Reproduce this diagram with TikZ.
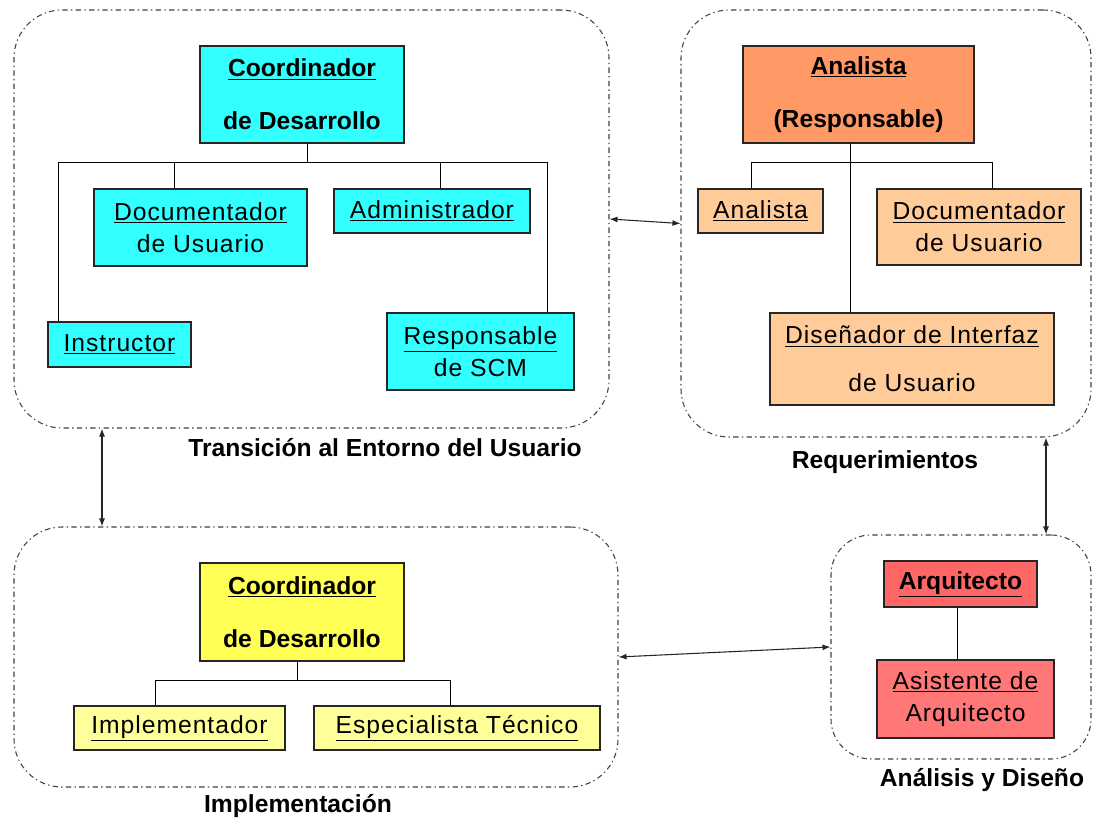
\documentclass[tikz,border=0pt]{standalone}
\usepackage{fontspec}
\setmainfont{Liberation Sans}
\usepackage{tikz}
\usetikzlibrary{calc,arrows.meta}

\definecolor{cyanbox}{HTML}{33FFFF}
\definecolor{orangehead}{HTML}{FF9966}
\definecolor{orangebox}{HTML}{FFCC99}
\definecolor{yellowhead}{HTML}{FFFF55}
\definecolor{yellowbox}{HTML}{FFFF99}
\definecolor{redhead}{HTML}{FF6666}
\definecolor{redbox}{HTML}{FF7777}

\tikzset{
  group/.style={draw=black!75, rounded corners=36pt, line width=0.8pt,
    dash pattern=on 4pt off 2.5pt on 1pt off 2.5pt, inner sep=0pt},
  chief/.style={draw=black!85, line width=0.8pt, align=center, inner sep=0pt,
    font=\bfseries\fontsize{18.5}{39.75}\selectfont},
  role/.style={draw=black!85, line width=0.8pt, align=center, inner sep=0pt,
    font=\fontsize{18.5}{24}\selectfont\addfontfeature{LetterSpace=4}},
  phase/.style={font=\bfseries\fontsize{18.5}{22}\selectfont},
  tree/.style={line width=0.7pt},
  link/.style={{Latex[length=6pt,width=4.5pt]}-{Latex[length=6pt,width=4.5pt]},
    line width=0.8pt, black!85}
}

\begin{document}
\begin{tikzpicture}[x=0.75pt, y=-0.75pt]

  \useasboundingbox (0,0) rectangle (1093,820);

  % fases
  \node[group, minimum width=446.25pt, minimum height=313.5pt] (G1) at (311.5,219) {};
  \node[group, minimum width=307.5pt, minimum height=320.25pt] (G2) at (886,223.5) {};
  \node[group, minimum width=453pt, minimum height=195pt] (G3) at (316,657) {};
  \node[group, minimum width=195pt, minimum height=168pt, rounded corners=30pt] (G4) at (961,647) {};

  \node[phase] (L1) at (385,448) {Transición al Entorno del Usuario};
  \node[phase] (L2) at (885,462) {Requerimientos};
  \node[phase] (L3) at (298,806) {Implementación};
  \node[phase] (L4) at (982,780) {Análisis y Diseño};

  % Transicion al entorno del usuario
  \node[chief, fill=cyanbox, minimum width=153pt, minimum height=72.75pt] (T0) at (302,94.5)
       {\underline{Coordinador}\\de Desarrollo};
  \node[role, fill=cyanbox, minimum width=159.75pt, minimum height=57.75pt] (T1) at (200.5,227.5)
       {\underline{Documentador}\\de Usuario};
  \node[role, fill=cyanbox, minimum width=147pt, minimum height=33pt] (T2) at (432,211)
       {\underline{Administrador}};
  \node[role, fill=cyanbox, minimum width=107.25pt, minimum height=33.75pt] (T3) at (119.5,344.5)
       {\underline{Instructor}};
  \node[role, fill=cyanbox, minimum width=140.25pt, minimum height=57.75pt] (T4) at (480.5,351.5)
       {\underline{Responsable}\\de SCM};

  \coordinate (J0) at (307,162);
  \coordinate (J1) at (58,162);
  \coordinate (J2) at (174,162);
  \coordinate (J3) at (440,162);
  \coordinate (J4) at (547,162);
  \draw[tree] (J0 |- T0.south) -- (J0);
  \draw[tree] (J1) -- (J4);
  \draw[tree] (J1) -- (J1 |- T3.north);
  \draw[tree] (J2) -- (J2 |- T1.north);
  \draw[tree] (J3) -- (J3 |- T2.north);
  \draw[tree] (J4) -- (J4 |- T4.north);

  % Requerimientos
  \node[chief, fill=orangehead, minimum width=173.25pt, minimum height=72.75pt] (R0) at (858.5,94.5)
       {\underline{Analista}\\(Responsable)};
  \node[role, fill=orangebox, minimum width=93.75pt, minimum height=33pt] (R1) at (760.5,211)
       {\underline{Analista}};
  \node[role, fill=orangebox, minimum width=153pt, minimum height=57pt] (R2) at (979,227)
       {\underline{Documentador}\\de Usuario};
  \node[role, fill=orangebox, minimum width=213pt, minimum height=69pt] (R3) at (912,359)
       {\underline{Diseñador de Interfaz}\\[12pt]de Usuario};

  \coordinate (K0) at (850,162);
  \coordinate (K1) at (751,162);
  \coordinate (K2) at (992,162);
  \draw[tree] (K0 |- R0.south) -- (K0 |- R3.north);
  \draw[tree] (K1) -- (K2);
  \draw[tree] (K1) -- (K1 |- R1.north);
  \draw[tree] (K2) -- (K2 |- R2.north);

  % Implementacion
  \node[chief, fill=yellowhead, minimum width=153pt, minimum height=73.5pt] (I0) at (302,612)
       {\underline{Coordinador}\\de Desarrollo};
  \node[role, fill=yellowbox, minimum width=158.25pt, minimum height=33pt] (I1) at (179.5,728)
       {\underline{Implementador}};
  \node[role, fill=yellowbox, minimum width=214.5pt, minimum height=33pt] (I2) at (457,728)
       {\underline{Especialista Técnico}};

  \coordinate (M0) at (297,680);
  \coordinate (M1) at (155,680);
  \coordinate (M2) at (450,680);
  \draw[tree] (M0 |- I0.south) -- (M0);
  \draw[tree] (M1) -- (M2);
  \draw[tree] (M1) -- (M1 |- I1.north);
  \draw[tree] (M2) -- (M2 |- I2.north);

  % Analisis y diseno
  \node[chief, fill=redhead, minimum width=114.75pt, minimum height=34.5pt] (A0) at (960.5,584)
       {\underline{Arquitecto}};
  \node[role, fill=redbox, minimum width=132.75pt, minimum height=58.5pt] (A1) at (965.5,699)
       {\underline{Asistente de}\\Arquitecto};

  \coordinate (N0) at (957,630);
  \draw[tree] (N0 |- A0.south) -- (N0 |- A1.north);

  % flujo entre fases
  \coordinate (P1) at (102,480);
  \coordinate (P2) at (1046,486);
  \draw[link] (G1.east) -- (G2.west);
  \draw[link] (G3.east) -- (G4.west);
  \draw[link] (P1 |- G1.south) -- (P1 |- G3.north);
  \draw[link] (P2 |- G2.south) -- (P2 |- G4.north);

\end{tikzpicture}
\end{document}
